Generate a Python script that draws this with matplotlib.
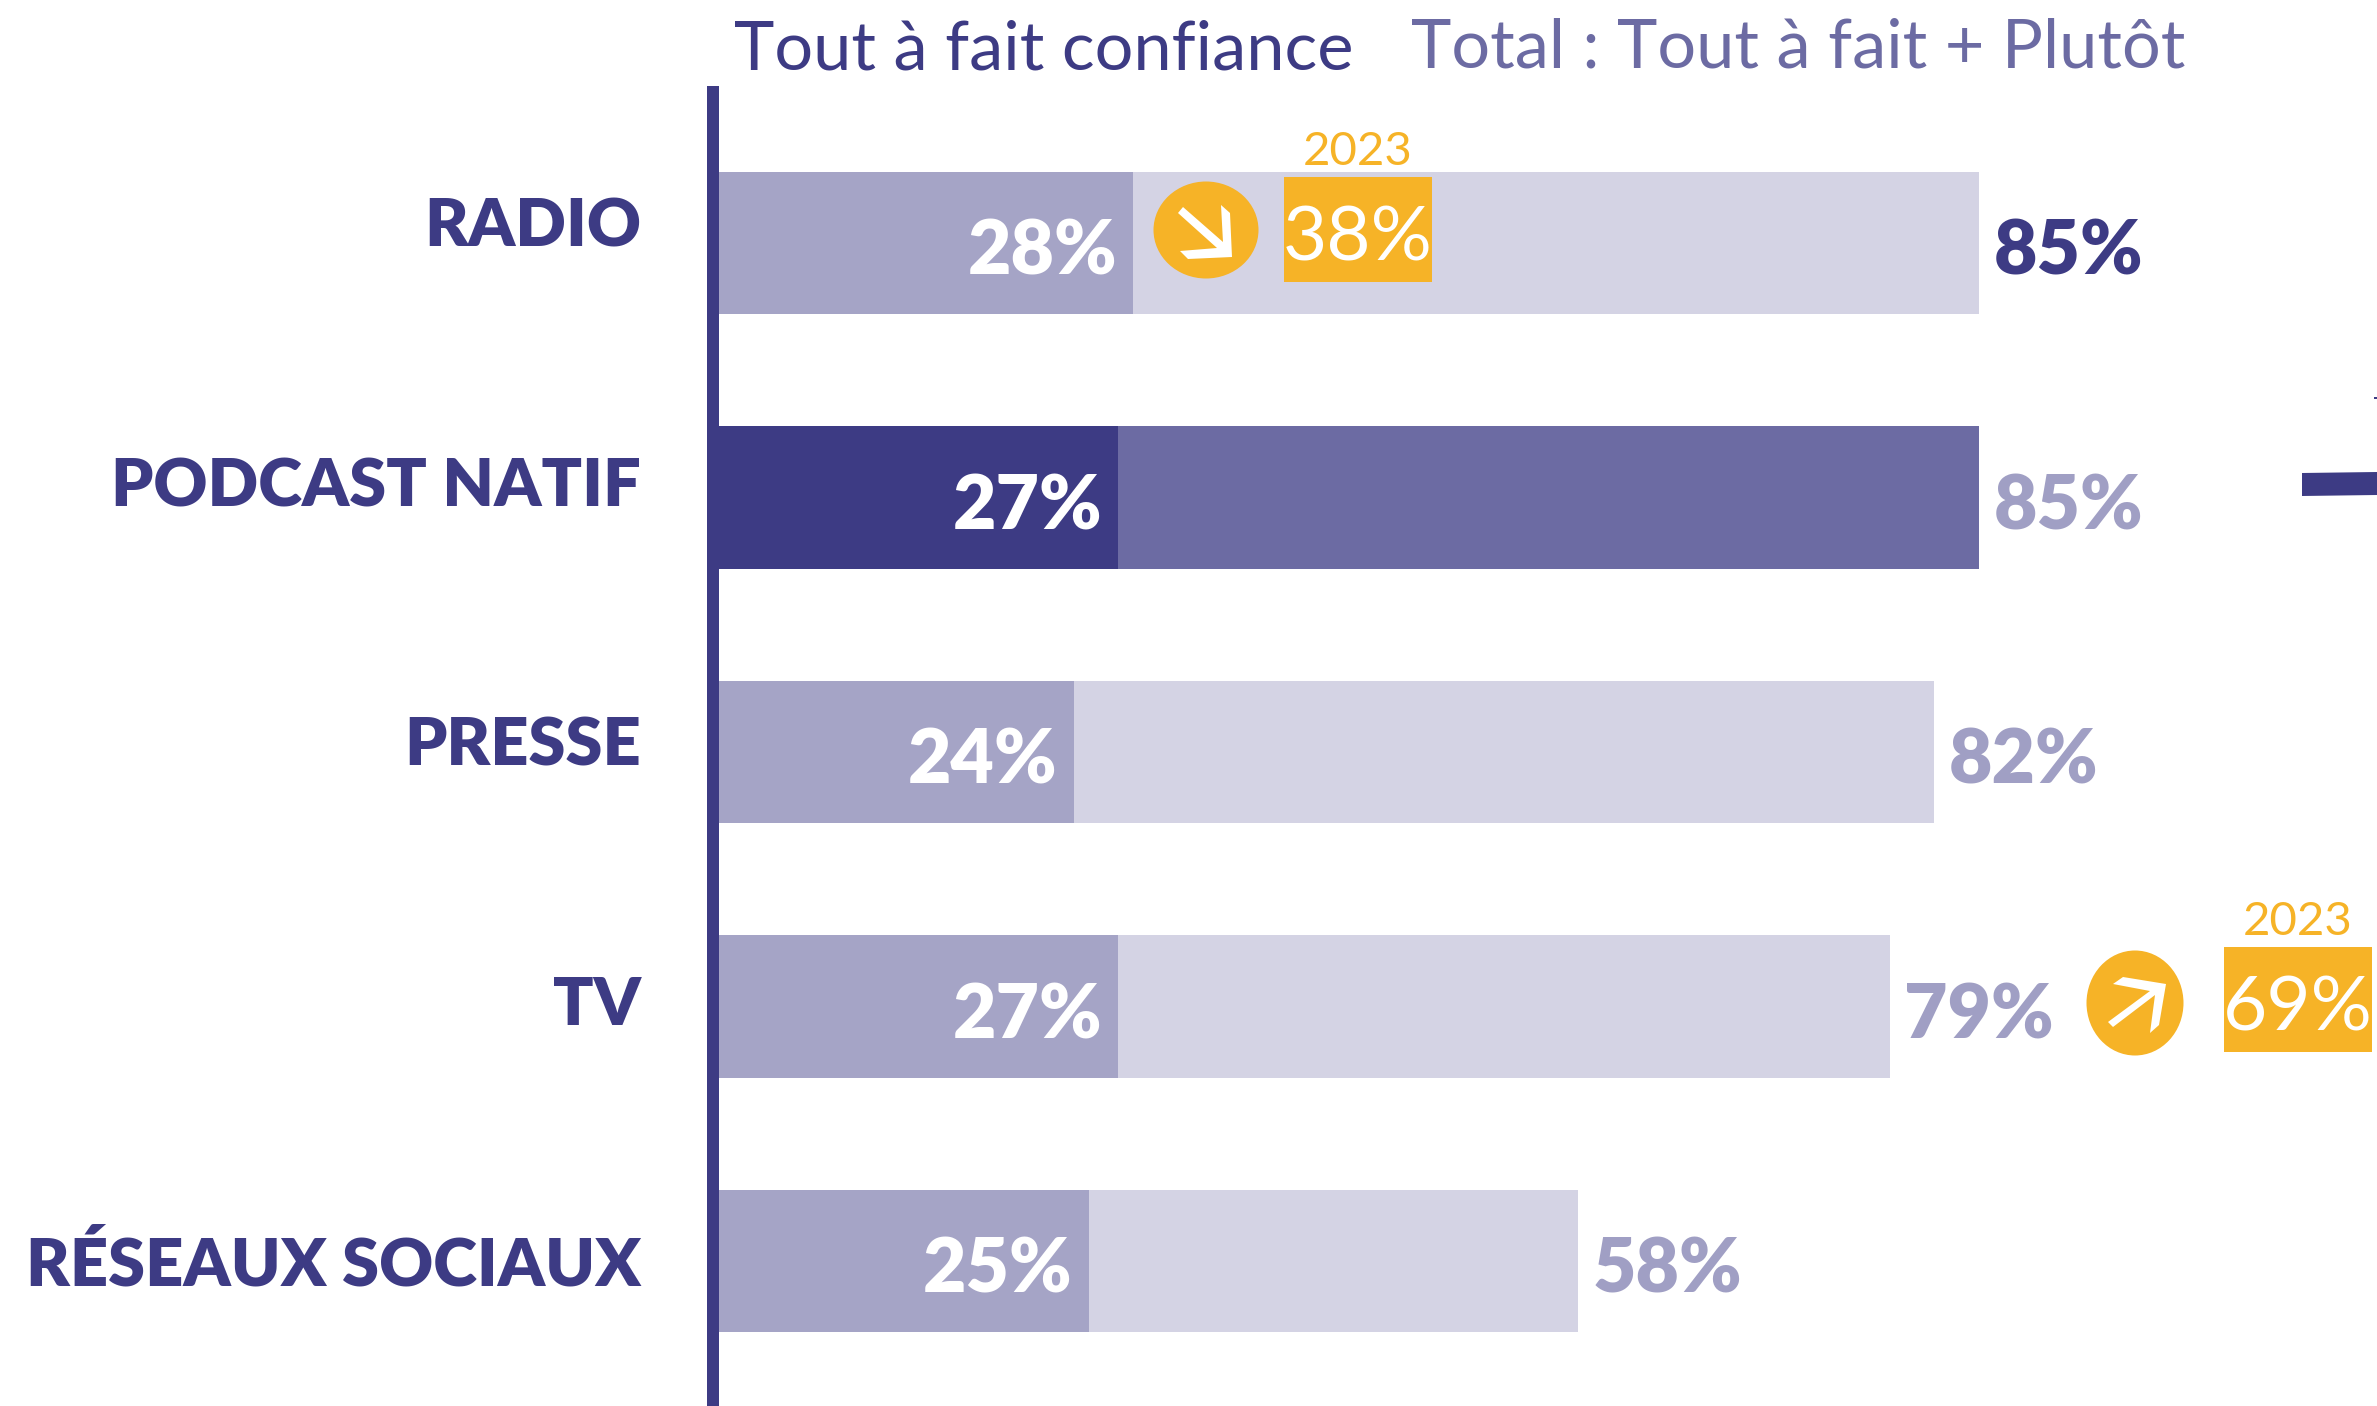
import matplotlib
matplotlib.use('Agg')
import matplotlib.pyplot as plt
from matplotlib.patches import Ellipse, Polygon, Rectangle
from matplotlib.transforms import Affine2D

categories = ['RADIO', 'PODCAST NATIF', 'PRESSE', 'TV', 'RÉSEAUX SOCIAUX']
tout_a_fait = [28, 27, 24, 27, 25]
total = [85, 85, 82, 79, 58]
title_left = 'Tout à fait confiance'
title_right = 'Total : Tout à fait + Plutôt'
year_label = '2023'
radio_2023 = 38
tv_2023 = 69

DARK = '#3D3B84'
MID = '#6C6BA3'
SOFT = '#A5A4C6'
SOFT_TEXT = '#A09FC4'
PALE = '#D4D3E4'
ORANGE = '#F6B327'
FONT = 'Lato'

W, H = 2377, 1406
X0, PX_PER_PCT = 718, 14.83
Y0, PITCH = 243, 254.5

plt.rcParams['font.family'] = FONT

fig = plt.figure(figsize=(W / 100, H / 100), dpi=100)
ax = fig.add_axes([0, 0, 1, 1])
ax.set_xlim(-X0 / PX_PER_PCT, (W - X0) / PX_PER_PCT)
ax.set_ylim((H - Y0) / PITCH, -Y0 / PITCH)
ax.axis('off')

# image pixel coordinates, for the decorations around the chart
px = Affine2D().scale(1, -1).translate(0, H)

for i in range(len(categories)):
    highlight = i == 1
    ax.barh(i, total[i], height=0.558, color=MID if highlight else PALE)
    ax.barh(i, tout_a_fait[i], height=0.558, color=DARK if highlight else SOFT)
    ax.text(tout_a_fait[i] - 1.1, i + 0.012, f'{tout_a_fait[i]}%', color='white', fontsize=54,
            fontweight='heavy', ha='right', va='center_baseline')
    ax.text(total[i] + 1.0, i + 0.012, f'{total[i]}%', color=DARK if i == 0 else SOFT_TEXT, fontsize=54,
            fontweight='heavy', ha='left', va='center_baseline')
    # the row labels are spaced a little wider than the bars
    ax.text(-5.2, i * 1.0204 - 0.085, categories[i], color=DARK, fontsize=48, fontweight='heavy',
            ha='right', va='center_baseline')

# vertical axis line
ax.add_patch(Rectangle((707, 86), 12, H - 86, color=DARK, lw=0, transform=px, zorder=4))

# header
fig.text(734 / W, 1 - 70 / H, title_left, color=DARK, fontsize=49.3, ha='left', va='baseline')
fig.text(1411 / W, 1 - 67 / H, title_right, color=MID, fontsize=49.2, ha='left', va='baseline')

# 2023 reminders
def reminder(value, ell, box, arrow):
    ax.add_patch(Ellipse(ell[:2], ell[2], ell[3], color=ORANGE, lw=0, transform=px, zorder=5))
    ax.add_patch(Polygon(arrow, closed=True, color='white', lw=0, transform=px, zorder=6))
    ax.add_patch(Rectangle(box[:2], box[2], box[3], color=ORANGE, lw=0, transform=px, zorder=5))
    cx = box[0] + box[2] / 2
    cy = box[1] + box[3] / 2
    ax.text(cx, cy + 3, f'{value}%', color='white', fontsize=55, ha='center', va='center_baseline',
            transform=px, zorder=6)
    ax.text(cx, box[1] - 29, year_label, color=ORANGE, fontsize=34, ha='center', va='center_baseline',
            transform=px, zorder=6)

reminder(radio_2023, (1206, 230, 105, 97), (1284, 177, 148, 105),
         [(1178, 213), (1217, 248), (1180, 251), (1188, 259), (1232, 257), (1230, 213),
          (1221, 205), (1223, 242), (1183, 207)])
reminder(tv_2023, (2135, 1003, 97, 105), (2224, 947, 148, 105),
         [(2108, 1022), (2150, 991), (2113, 984), (2123, 977), (2166, 984), (2159, 1025),
          (2150, 1033), (2155, 995), (2113, 1027)])

# cropped connector on the right edge
ax.add_patch(Polygon([(2302, 473), (2377, 472), (2377, 495), (2302, 496)], closed=True, color=DARK, lw=0, transform=px))
ax.add_patch(Rectangle((2374, 397), 3, 2, color=DARK, lw=0, transform=px))

fig.savefig('out.png', dpi=100, facecolor='white')
